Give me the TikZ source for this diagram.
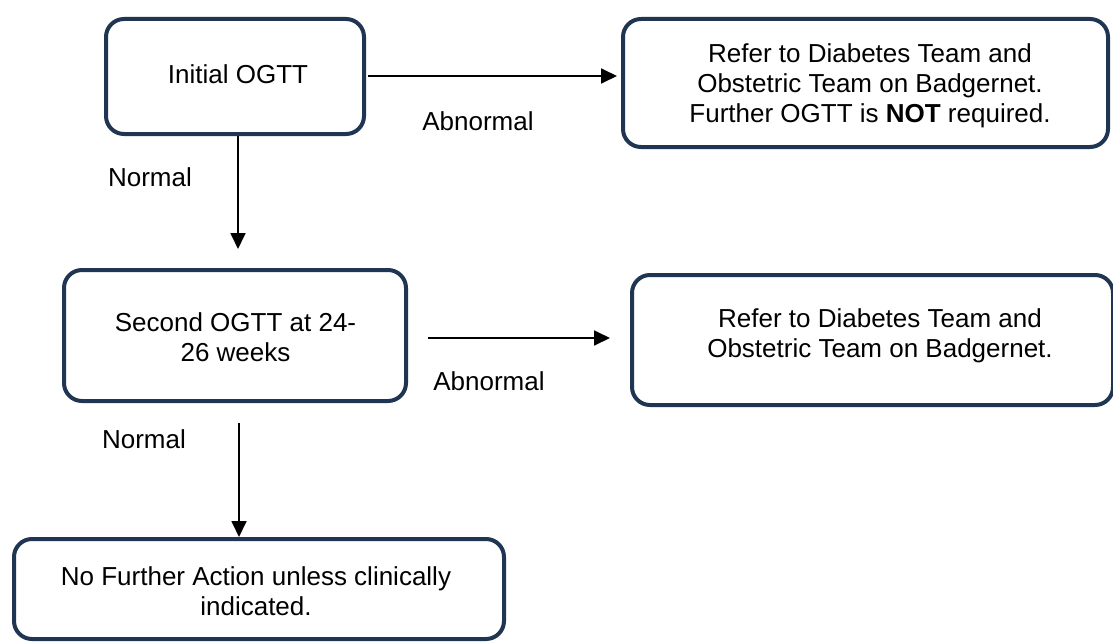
\documentclass[tikz,border=0pt]{standalone}
\usepackage{fontspec}
\setmainfont{Liberation Sans}
\usetikzlibrary{arrows.meta}
\definecolor{boxedge}{HTML}{1F3552}
\begin{document}
\begin{tikzpicture}[x=1pt,y=-1pt,
  flowbox/.style={draw=boxedge, line width=4pt, rounded corners=18pt, rectangle, inner sep=0pt},
  txt/.style={align=center, inner sep=0pt, font=\fontsize{26}{30}\selectfont},
  lbl/.style={inner sep=0pt, font=\fontsize{26}{30}\selectfont},
  arr/.style={line width=1.8pt, -{Triangle[length=16pt,width=15pt]}}]
\useasboundingbox (0,0) rectangle (1113,642);

% boxes
\node[flowbox, minimum width=258pt, minimum height=115pt] (init) at (235,76.5) {};
\node[flowbox, minimum width=485pt, minimum height=128pt] (refer1) at (865.5,83) {};
\node[flowbox, minimum width=342pt, minimum height=131pt] (second) at (235,335.5) {};
\node[flowbox, minimum width=481pt, minimum height=130pt] (refer2) at (872.5,340) {};
\node[flowbox, minimum width=490pt, minimum height=100pt] (nfa) at (259,589) {};

% box texts
\node[txt] (initT) at (238,74) {Initial OGTT};
\node[txt] (refer1T) at (870,85.5) {Refer to Diabetes Team and\\Obstetric Team on Badgernet.\\Further OGTT is \textbf{NOT} required.};
\node[txt] (secondT) at (235.5,337.5) {Second OGTT at 24-\\26 weeks};
\node[txt] (refer2T) at (880,336) {Refer to Diabetes Team and\\Obstetric Team on Badgernet.};
\node[txt] (nfaT) at (256,591) {No Further Action unless clinically\\indicated.};

% connector end points
\coordinate (a1s) at (368,76);
\coordinate (a1e) at (617,76);
\coordinate (a2s) at (238,136);
\coordinate (a2e) at (238,249);
\coordinate (a3s) at (428,338);
\coordinate (a3e) at (610,338);
\coordinate (a4s) at (239,423);
\coordinate (a4e) at (239,537);

\draw[arr] (a1s) -- (a1e);
\draw[arr] (a2s) -- (a2e);
\draw[arr] (a3s) -- (a3e);
\draw[arr] (a4s) -- (a4e);

% connector labels
\node[lbl] (ab1) at (478,121) {Abnormal};
\node[lbl] (no1) at (150,177) {Normal};
\node[lbl] (ab2) at (489,381) {Abnormal};
\node[lbl] (no2) at (144,439) {Normal};
\end{tikzpicture}
\end{document}
